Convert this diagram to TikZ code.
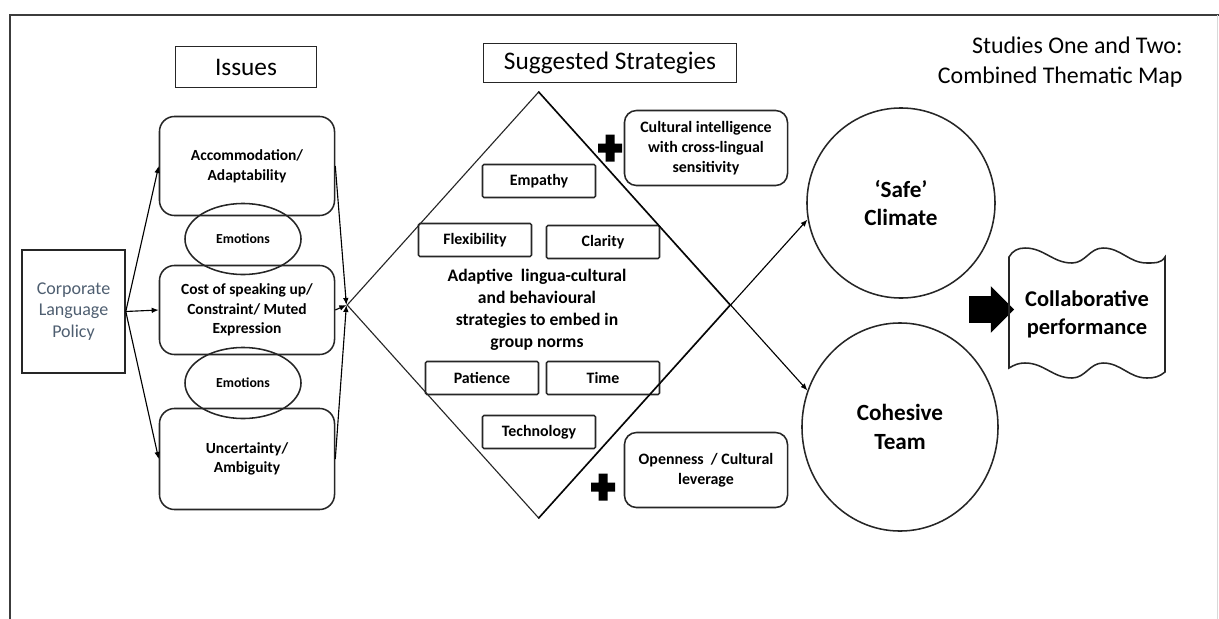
\documentclass[tikz,border=0pt]{standalone}
\usepackage{fontspec}
\setmainfont{Carlito}
\usetikzlibrary{arrows.meta, positioning, shapes.geometric, shapes.arrows, calc}
\definecolor{corpblue}{RGB}{78,94,112}
\definecolor{framegray}{RGB}{60,60,60}
\newcommand*{\plusmark}[1]{\fill #1 +(-12,-4.5) rectangle +(12,4.5) #1 +(-4.5,-13.5) rectangle +(4.5,13.5);}

\begin{document}
\begin{tikzpicture}[
      x=0.025cm, y=-0.025cm, >={Latex[length=5pt,width=4pt]},
      every node/.style={line width=1.1pt, draw=black!85},
      hdr/.style={draw, inner sep=0pt, font=\fontsize{18}{20}\selectfont},
      issue/.style={draw, rounded corners=0.375cm, minimum width=4.375cm, align=center,
                    font=\bfseries\fontsize{11}{14}\selectfont},
      emo/.style={ellipse, draw, minimum width=2.9cm, minimum height=1.775cm, inner sep=0pt,
                  font=\bfseries\fontsize{9.8}{11}\selectfont},
      strat/.style={draw, rounded corners=1pt, minimum width=2.825cm, minimum height=0.825cm,
                    inner sep=0pt, font=\bfseries\fontsize{11.3}{13}\selectfont},
      extra/.style={draw, rounded corners=0.3cm, minimum width=4.075cm, minimum height=1.875cm,
                    inner sep=0pt, align=center, font=\bfseries\fontsize{11.3}{14.2}\selectfont},
      outcome/.style={ellipse, draw, align=center, font=\bfseries\fontsize{16.5}{20}\selectfont},
      arr/.style={->, line width=0.8pt}
      ]

      % frame
      \useasboundingbox (0,0) rectangle (1219,619);
      \draw[line width=1.4pt, framegray] (10,619) -- (10,15) -- (1219,15);
      \draw[line width=0.6pt, black!15] (1217,15) -- (1217,619);

      % issues
      \node[hdr, minimum width=3.525cm, minimum height=1.025cm] (issues) at (246,67) {Issues};
      \node[issue, minimum height=2.475cm] (accom) at (247,166) {Accommodation/\\Adaptability};
      \node[issue, minimum height=2.225cm] (cost) at (247,310) {Cost of speaking up/\\Constraint/ Muted\\Expression};
      \node[issue, minimum height=2.525cm] (uncert) at (247,459) {Uncertainty/\\Ambiguity};
      \node[emo] (emo1) at (243,239) {Emotions};
      \node[emo] (emo2) at (243,383) {Emotions};

      \node[draw, minimum width=2.575cm, minimum height=3.075cm, align=center, text=corpblue,
            font=\fontsize{12.8}{15.3}\selectfont] (policy) at (73.5,311.5) {Corporate\\Language\\Policy};

      % strategies
      \node[hdr, minimum width=6.325cm, minimum height=0.975cm] (sugg) at (610,63) {Suggested Strategies};
      \node[diamond, draw, line width=0.8pt, minimum width=9.575cm, minimum height=10.65cm,
            inner sep=0pt, aspect=0.9] (dia) at (538.5,305) {};
      \node[strat] (empathy) at (539,181) {Empathy};
      \node[strat] (flex) at (475,240) {Flexibility};
      \node[strat] (clarity) at (603,242) {Clarity};
      \node[draw=none, align=center, font=\bfseries\fontsize{12.5}{15.6}\selectfont] (core) at (537,310)
            {Adaptive~ lingua-cultural\\and behavioural\\strategies to embed in\\group norms};
      \node[strat] (patience) at (482,378) {Patience};
      \node[strat] (time) at (603,378) {Time};
      \node[strat] (tech) at (539,432) {Technology};
      \node[extra] (cq) at (706,148) {Cultural intelligence\\with cross-lingual\\sensitivity};
      \node[extra] (open) at (706,470) {Openness~ / Cultural\\leverage};
      \plusmark{(610,148)}
      \plusmark{(603,487)}

      % outcomes
      \node[outcome, minimum width=4.7cm, minimum height=4.75cm] (safe) at (901,203) {`Safe'\\Climate};
      \node[outcome, minimum width=4.9cm, minimum height=5.2cm] (team) at (900,427) {Cohesive\\Team};
      \node[single arrow, fill=black, draw=none, minimum height=1.125cm, minimum width=1.125cm,
            inner xsep=0pt, inner ysep=0.3125cm, single arrow head extend=0.25cm] (push) at (985,309.5) {};
      \node[draw=none, align=center, font=\bfseries\fontsize{16}{20}\selectfont] (perf) at (1087,314)
            {Collaborative\\performance};
      \draw[line width=1.1pt, black!85] (1009,257) to[out=60,in=180] (1025,248)
            to[out=0,in=180] (1072,263) to[out=0,in=180] (1103,248)
            to[out=0,in=180] (1147,263) to[out=0,in=240] (1165,257)
            -- (1165,372) to[out=220,in=0] (1147,378) to[out=180,in=0] (1103,363)
            to[out=180,in=0] (1072,378) to[out=180,in=0] (1025,363)
            to[out=180,in=30] (1009,368) -- cycle;

      \node[draw=none, anchor=east, align=right, font=\fontsize{17}{21.3}\selectfont] (title) at (1188,62)
            {Studies One and Two:\\Combined Thematic Map};

      % connectors
      \draw[arr] (policy.east) -- (accom.west);
      \draw[arr] (policy.east) -- (cost.west);
      \draw[arr] (policy.east) -- (uncert.west);
      \draw[arr] (accom.east) -- (dia.west);
      \draw[arr] (cost.east) -- (dia.west);
      \draw[arr] (uncert.east) -- (dia.west);
      \draw[arr] (dia.north) -- ($(dia.north)!1.4!(dia.east)$);
      \draw[arr] (dia.south) -- ($(dia.south)!1.4!(dia.east)$);
    \end{tikzpicture}
\end{document}
